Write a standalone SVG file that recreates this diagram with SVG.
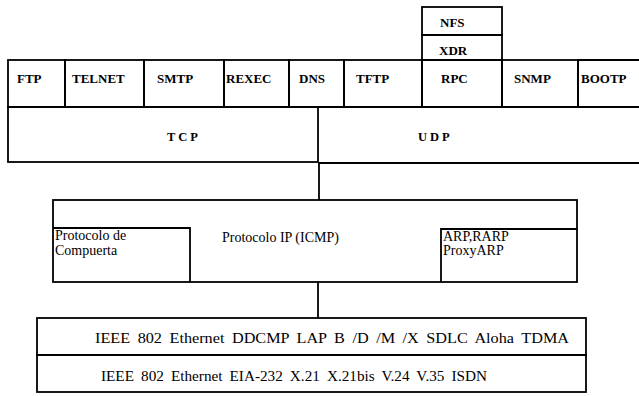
<svg xmlns="http://www.w3.org/2000/svg" width="639" height="396" viewBox="0 0 639 396">
<style>
rect,line,path{fill:none;stroke:#000;stroke-width:1.8}
text{font-family:'Liberation Serif','DejaVu Serif',serif;font-size:14px;fill:#000}
.b{font-weight:bold;font-size:13px}
.sp{letter-spacing:3px;font-size:12.5px;font-weight:bold}
</style>
<rect x="0" y="0" width="639" height="396" style="fill:#fff;stroke:none"/>
<g id="app-layer">
<g id="ftp"><rect x="8" y="60" width="57" height="47"/><text class="b" x="17" y="83">FTP</text></g>
<g id="telnet"><rect x="65" y="60" width="79" height="47"/><text class="b" x="72" y="83">TELNET</text></g>
<g id="smtp"><rect x="144" y="60" width="80" height="47"/><text class="b" x="157" y="83">SMTP</text></g>
<g id="rexec"><rect x="224" y="60" width="65" height="47"/><text class="b" x="226" y="83">REXEC</text></g>
<g id="dns"><rect x="289" y="60" width="55" height="47"/><text class="b" x="299" y="83">DNS</text></g>
<g id="tftp"><rect x="344" y="60" width="78" height="47"/><text class="b" x="356" y="83">TFTP</text></g>
<g id="rpc"><rect x="422" y="60" width="80" height="47"/><text class="b" x="441" y="83">RPC</text></g>
<g id="snmp"><rect x="502" y="60" width="76" height="47"/><text class="b" x="514" y="83">SNMP</text></g>
<g id="bootp"><path d="M640 60 H578 V107 H640"/><text class="b" x="581" y="83">BOOTP</text></g>
<g id="xdr"><rect x="422" y="35" width="80" height="25"/><text class="b" x="439" y="55">XDR</text></g>
<g id="nfs"><rect x="422" y="7" width="80" height="28"/><text class="b" x="440" y="27">NFS</text></g>
</g>
<g id="transport">
<g id="tcp"><rect x="8" y="107" width="310" height="55"/><text class="sp" x="167" y="141">TCP</text></g>
<g id="udp"><path d="M318 107 H640 M318 163 H640"/><text class="sp" x="418" y="141" letter-spacing="5">UDP</text></g>
</g>
<g id="ip">
<rect x="53" y="200" width="524" height="82"/>
<text x="222" y="242">Protocolo IP (ICMP)</text>
<g id="gateway"><path d="M53 228 H190 V282"/><text x="55" y="240" font-size="13">Protocolo de</text><text x="55" y="255" font-size="13">Compuerta</text></g>
<g id="arp"><path d="M577 229 H441 V282"/><text x="443" y="241" font-size="14">ARP,RARP</text><text x="443" y="255" font-size="14">ProxyARP</text></g>
</g>
<g id="link">
<g id="datalink"><rect x="37" y="318" width="549" height="37"/><text x="95" y="343" font-size="15" word-spacing="3" textLength="474" lengthAdjust="spacingAndGlyphs">IEEE 802 Ethernet DDCMP LAP B /D /M /X SDLC Aloha TDMA</text></g>
<g id="physical"><rect x="37" y="355" width="549" height="37"/><text x="101" y="381" font-size="15" word-spacing="3" textLength="386" lengthAdjust="spacingAndGlyphs">IEEE 802 Ethernet EIA-232 X.21 X.21bis V.24 V.35 ISDN</text></g>
</g>
<g id="connectors">
<line x1="319" y1="162" x2="319" y2="200"/>
<line x1="318" y1="282" x2="318" y2="318"/>
</g>
</svg>
